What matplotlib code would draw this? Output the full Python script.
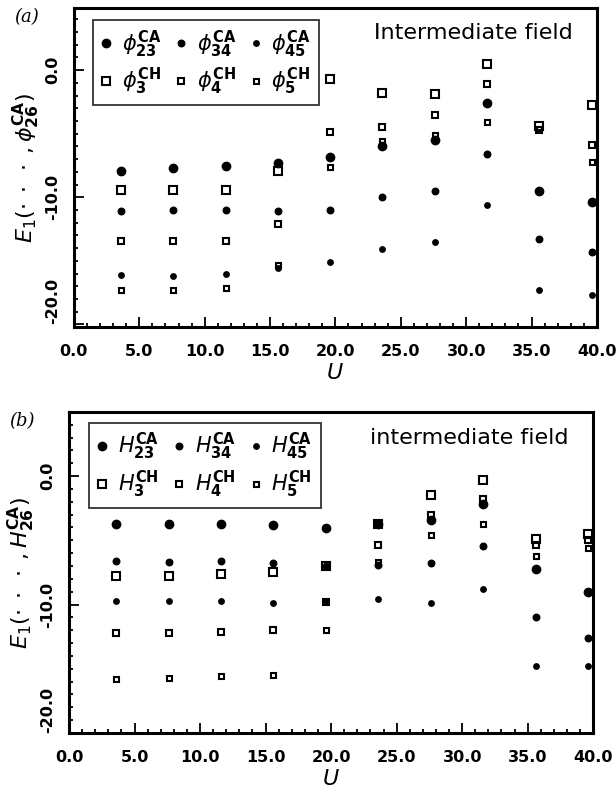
import matplotlib.pyplot as plt
from matplotlib.ticker import MultipleLocator, FormatStrFormatter

plt.rcParams['mathtext.fontset'] = 'dejavusans'

U = [3.6, 7.6, 11.6, 15.6, 19.6, 23.6, 27.6, 31.6, 35.6, 39.6]

# panel (a): phi
phi23_ca = [-7.9, -7.7, -7.5, -7.3, -6.8, -6.0, -5.5, -2.6, -9.5, -10.4]
phi34_ca = [-11.1, -11.0, -11.0, -11.1, -11.0, -10.0, -9.5, -6.6, -13.3, -14.3]
phi45_ca = [-16.1, -16.2, -16.0, -15.6, -15.1, -14.1, -13.5, -10.6, -17.3, -17.7]
phi3_ch = [-9.4, -9.4, -9.4, -7.9, -0.7, -1.8, -1.9, 0.5, -4.4, -2.7]
phi4_ch = [-13.4, -13.4, -13.4, -12.1, -4.9, -4.5, -3.5, -1.1, -4.7, -5.9]
phi5_ch = [-17.3, -17.3, -17.1, -15.3, -7.6, -5.6, -5.1, -4.1, -4.6, -7.2]

# panel (b): H
H23_ca = [-3.7, -3.7, -3.7, -3.8, -4.05, -3.7, -3.4, -2.2, -7.2, -9.0]
H34_ca = [-6.6, -6.7, -6.6, -6.8, -7.0, -6.9, -6.8, -5.45, -11.0, -12.6]
H45_ca = [-9.7, -9.7, -9.7, -9.9, -9.8, -9.6, -9.9, -8.8, -14.8, -14.8]
H3_ch = [-7.8, -7.8, -7.6, -7.5, -7.0, -3.7, -1.5, -0.3, -4.9, -4.5]
H4_ch = [-12.2, -12.2, -12.1, -12.0, -9.8, -5.35, -3.0, -1.8, -5.35, -5.0]
H5_ch = [-15.8, -15.7, -15.6, -15.5, -12.0, -6.7, -4.6, -3.7, -6.2, -5.6]

circle_sizes = [6.0, 4.7, 3.9]
square_sizes = [6.0, 4.5, 3.6]


def draw_panel(ax, sym, ca, ch, ylim, title, tag, leg_anchor):
    handles = []
    for vals, ms in zip(ca, circle_sizes):
        h, = ax.plot(U, vals, 'o', color='black', ms=ms, ls='none')
        handles.append(h)
    for vals, ms in zip(ch, square_sizes):
        h, = ax.plot(U, vals, 's', mfc='none', mec='black', mew=1.5, ms=ms, ls='none')
        handles.append(h)

    ax.set_xlim(0, 40)
    ax.set_ylim(*ylim)
    ax.xaxis.set_major_locator(MultipleLocator(5))
    ax.xaxis.set_minor_locator(MultipleLocator(1))
    ax.yaxis.set_major_locator(MultipleLocator(10))
    ax.yaxis.set_minor_locator(MultipleLocator(1))
    ax.xaxis.set_major_formatter(FormatStrFormatter('%.1f'))
    ax.yaxis.set_major_formatter(FormatStrFormatter('%.1f'))
    ax.tick_params(which='both', direction='in', width=1.3)
    ax.tick_params(which='major', length=7, labelsize=11.5)
    ax.tick_params(axis='x', which='major', pad=12)
    ax.tick_params(axis='y', which='major', pad=10)
    ax.tick_params(which='minor', length=3)
    for lab in ax.get_xticklabels() + ax.get_yticklabels():
        lab.set_fontweight('bold')
    for lab in ax.get_yticklabels():
        lab.set_rotation(90)
        lab.set_va('center')
    for lab, t in zip(ax.get_yticklabels(), ax.get_yticks()):
        if abs(t + 20) < 1e-6:
            lab.set_va('bottom')
    for s in ax.spines.values():
        s.set_linewidth(2.2)

    ax.set_xlabel('$U$', fontsize=16, labelpad=3)
    ax.set_ylabel(r'$E_1(\cdot\;\cdot\;\cdot\;,%s^{\mathbf{CA}}_{\mathbf{26}})$' % sym,
                  fontsize=16, labelpad=2)
    ax.text(0.763, 0.92, title, transform=ax.transAxes, fontsize=16,
            ha='center', va='center')
    ax.text(-0.09, 0.97, tag, transform=ax.transAxes, fontsize=13,
            ha='center', va='center', family='DejaVu Serif', style='italic')

    order = [0, 3, 1, 4, 2, 5]
    labels = [r'$%s^{\mathbf{CA}}_{\mathbf{23}}$' % sym, r'$%s^{\mathbf{CH}}_{\mathbf{3}}$' % sym,
              r'$%s^{\mathbf{CA}}_{\mathbf{34}}$' % sym, r'$%s^{\mathbf{CH}}_{\mathbf{4}}$' % sym,
              r'$%s^{\mathbf{CA}}_{\mathbf{45}}$' % sym, r'$%s^{\mathbf{CH}}_{\mathbf{5}}$' % sym]
    leg = ax.legend([handles[i] for i in order], labels, ncol=3, loc='upper left',
                    bbox_to_anchor=leg_anchor, fontsize=15, frameon=True, fancybox=False,
                    handlelength=0.5, handletextpad=0.5, columnspacing=0.7,
                    labelspacing=0.3, borderpad=0.4, borderaxespad=0.0)
    leg.get_frame().set_edgecolor('black')
    leg.get_frame().set_linewidth(1.3)


fig = plt.figure(figsize=(6.16, 7.89), dpi=100)
ax1 = fig.add_axes([0.120, 0.5856, 0.849, 0.4044])
ax2 = fig.add_axes([0.112, 0.071, 0.851, 0.407])

draw_panel(ax1, r'\phi', [phi23_ca, phi34_ca, phi45_ca], [phi3_ch, phi4_ch, phi5_ch],
           (-20.2, 4.9), 'Intermediate field', '(a)', (0.036, 0.962))
draw_panel(ax2, 'H', [H23_ca, H34_ca, H45_ca], [H3_ch, H4_ch, H5_ch],
           (-20.0, 5.0), 'intermediate field', '(b)', (0.038, 0.966))

fig.savefig('out.png', dpi=100)
